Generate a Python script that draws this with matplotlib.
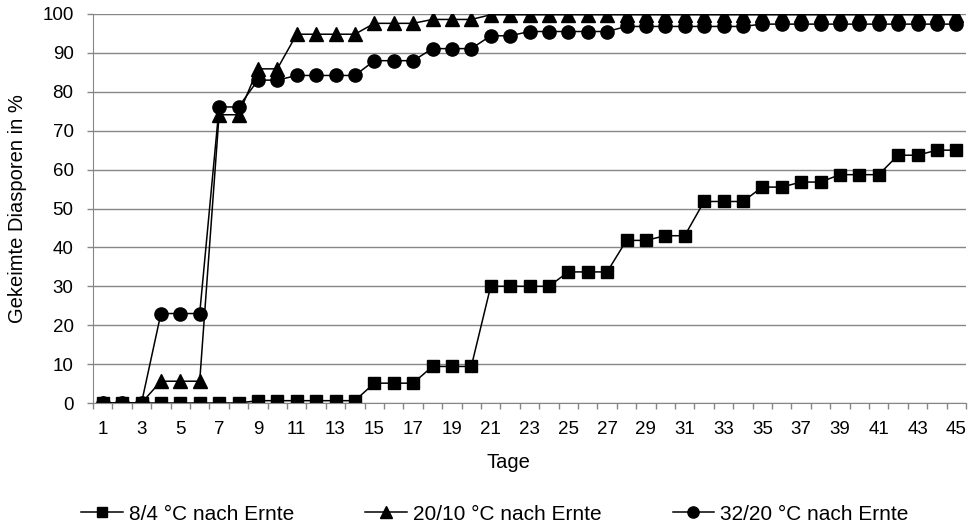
import matplotlib
matplotlib.use("Agg")
import matplotlib.pyplot as plt
import numpy as np

plt.rcParams['font.family'] = ['Liberation Sans', 'DejaVu Sans']

tage = list(range(1, 46))

serie_8_4 = [0, 0, 0, 0, 0, 0, 0, 0,
             0.6, 0.6, 0.6, 0.6, 0.6, 0.6,
             5.1, 5.1, 5.1,
             9.4, 9.4, 9.4,
             30, 30, 30, 30,
             33.7, 33.7, 33.7,
             41.8, 41.8,
             43, 43,
             51.8, 51.8, 51.8,
             55.5, 55.5,
             56.8, 56.8,
             58.7, 58.7, 58.7,
             63.7, 63.7,
             65, 65]

serie_20_10 = [0, 0, 0,
               5.6, 5.6, 5.6,
               74.1, 74.1,
               85.9, 85.9,
               94.8, 94.8, 94.8, 94.8,
               97.6, 97.6, 97.6,
               98.6, 98.6, 98.6] + [99.8] * 25

serie_32_20 = [0, 0, 0,
               23, 23, 23,
               76.1, 76.1,
               83, 83,
               84.2, 84.2, 84.2, 84.2,
               88, 88, 88,
               91.1, 91.1, 91.1,
               94.4, 94.4,
               95.5, 95.5, 95.5, 95.5, 95.5,
               96.8, 96.8, 96.8, 96.8, 96.8, 96.8, 96.8] + [97.4] * 11

labels = ["8/4 °C nach Ernte", "20/10 °C nach Ernte", "32/20 °C nach Ernte"]

grey = '#868686'

fig = plt.figure(figsize=(9.71, 5.27), dpi=100)
# plot area in pixels: x 93..966, y 14..403
ax = fig.add_axes([93 / 971, 124 / 527, 873 / 971, 389 / 527])

ax.plot(tage, serie_8_4, color='black', lw=1.1, marker='s', ms=8.5, label=labels[0])
ax.plot(tage, serie_20_10, color='black', lw=1.1, marker='^', ms=9.5, label=labels[1])
ax.plot(tage, serie_32_20, color='black', lw=1.1, marker='o', ms=9.5, label=labels[2])

ax.set_xlim(0.5, 45.5)
ax.set_ylim(0, 100)
ax.set_yticks(range(0, 101, 10))
ax.set_xticks(range(1, 46, 2))
ax.set_xticks(np.arange(0.5, 46, 1), minor=True)
ax.tick_params(axis='x', which='major', length=0, pad=13, labelsize=13.5)
ax.tick_params(axis='x', which='minor', length=4, width=1, color=grey, direction='out')
ax.tick_params(axis='y', length=4, width=1, color=grey, pad=10, labelsize=13.5)

ax.yaxis.grid(True, color=grey, lw=1)
ax.set_axisbelow(True)
for side in ['top', 'right']:
    ax.spines[side].set_visible(False)
ax.spines['left'].set_color(grey)
ax.spines['bottom'].set_color(grey)

ax.set_xlabel('Tage', fontsize=14.5, va='center')
ax.xaxis.set_label_coords((508 - 93) / 873, (403 - 462) / 389)
ax.set_ylabel('Gekeimte Diasporen in %', fontsize=14.5, va='center')
ax.yaxis.set_label_coords((18 - 93) / 873, 0.5)

fig.legend(loc='center', bbox_to_anchor=(495 / 971, 1 - 514 / 527), ncol=3,
           frameon=False, fontsize=15, handlelength=2.0, columnspacing=3.4,
           handletextpad=0.3, markerscale=0.85)

fig.savefig('out.png', dpi=100)
